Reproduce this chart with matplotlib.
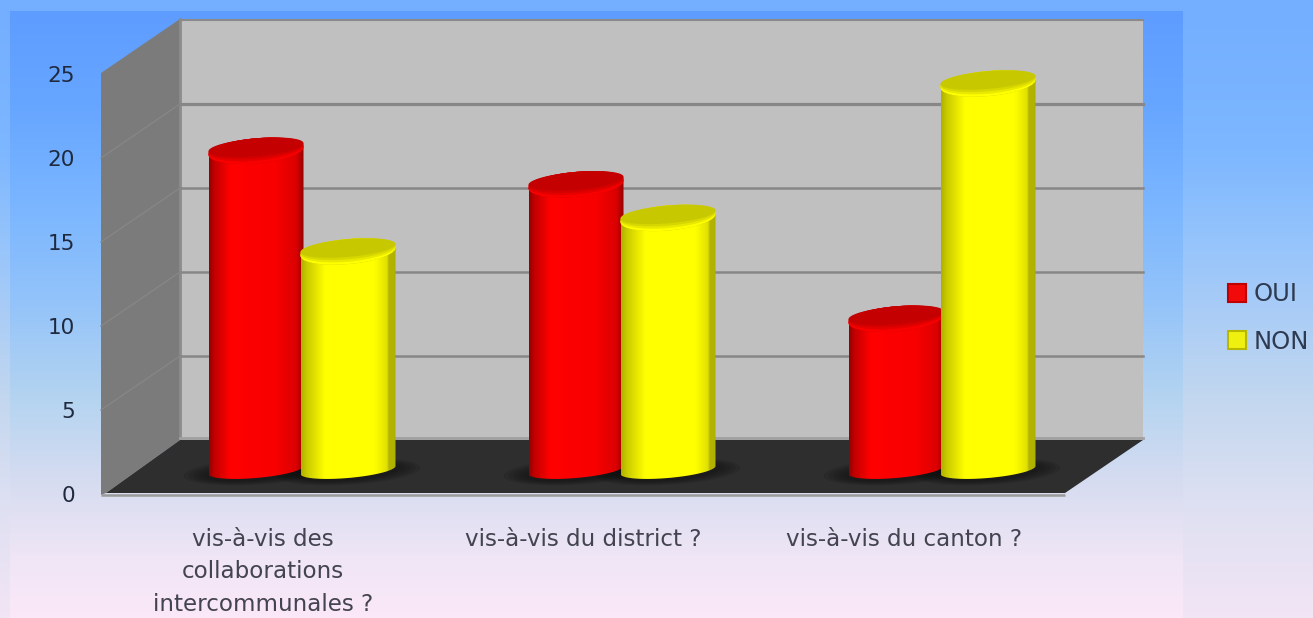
import numpy as np
import matplotlib
matplotlib.use('Agg')
import matplotlib.pyplot as plt
from matplotlib.colors import LinearSegmentedColormap, to_rgb
from matplotlib.patches import Patch, Polygon

categories = ['vis-à-vis des\ncollaborations\nintercommunales ?', 'vis-à-vis du district ?', 'vis-à-vis du canton ?']
oui = [19, 17, 9]
non = [13, 15, 23]
ticks = [0, 5, 10, 15, 20, 25]

W, H = 1313, 618
PX_PER_UNIT = 16.8
BASE_Y = 470      # pixel row of value 0 at the cylinder feet
GROUP_X = 302     # pixel column of first group
GROUP_STEP = 320


def vgrad(ax, stops, extent):
    # vertical gradient from (pixel row, colour) stops
    rows = np.arange(extent[2], extent[3])
    pos = [s[0] for s in stops]
    rgb = np.array([to_rgb(s[1]) for s in stops])
    img = np.stack([np.interp(rows, pos, rgb[:, c]) for c in range(3)], axis=1)[:, None, :]
    ax.imshow(img, extent=(extent[0], extent[1], extent[3], extent[2]), aspect='auto', zorder=0)


fig = plt.figure(figsize=(W / 100, H / 100), dpi=100)

# pixel axes for the backdrop, walls and texts
bg = fig.add_axes([0, 0, 1, 1])
vgrad(bg, [(0, '#73aeff'), (150, '#7db7ff'), (250, '#98c5fb'), (400, '#c3d7ef'),
           (500, '#dde0f2'), (618, '#f2e5f5')], (0, W, 0, H))
vgrad(bg, [(11, '#5e9dff'), (100, '#66a5ff'), (200, '#79b5ff'), (300, '#93c3fa'), (400, '#b5d4f0'),
           (480, '#d6dcf0'), (560, '#f0e6f6'), (618, '#fbe8f8')], (10, 1183, 11, H))
bg.set_xlim(0, W)
bg.set_ylim(H, 0)
bg.axis('off')

bg.add_patch(Polygon([(101, 73), (180, 19), (180, 440), (106, 493), (101, 495)], fc='#7b7b7b', ec='none', zorder=1))
bg.add_patch(Polygon([(180, 19), (1143, 19), (1143, 440), (180, 440)], fc='#c0c0c0', ec='none', zorder=1))
bg.add_patch(Polygon([(106, 493), (180, 440), (1143, 440), (1065, 493)], fc='#2e2e2e', ec='none', zorder=2))
bg.plot([101, 1065], [494.5, 494.5], color='#9a9a9a', lw=1.8, zorder=2, solid_capstyle='butt')
bg.plot([180, 180], [19, 438], color='#8c8c8c', lw=2, zorder=2)
bg.plot([180, 1143], [19.5, 19.5], color='#8a8a8a', lw=1.5, zorder=2)
bg.plot([180, 1143], [438, 438], color='#a0a0a0', lw=2, zorder=2)
for t in ticks[1:-1]:
    back = 440 - PX_PER_UNIT * t
    bg.plot([180, 1143], [back, back], color='#878787', lw=1.8 if t != 20 else 2.3, zorder=2)
    bg.plot([101, 180], [back + 54, back], color='#868686', lw=1, zorder=2)

for t in ticks:
    bg.text(75, 496 - PX_PER_UNIT * t, str(t), ha='right', va='center', fontsize=15.5, color='#1f2a3f', zorder=5)

for i, cat in enumerate(categories):
    bg.text(GROUP_X - 39 + (GROUP_STEP + 0.5) * i, 528, cat, ha='center', va='top', fontsize=16.6,
            color='#444450', linespacing=1.52, zorder=5)

# data axes: x in group index, y in value
ax = fig.add_axes([0, 0, 1, 1], facecolor='none')
ax.axis('off')
xlim = (-GROUP_X / GROUP_STEP, (W - GROUP_X) / GROUP_STEP)
ylim = ((BASE_Y - H) / PX_PER_UNIT, BASE_Y / PX_PER_UNIT)

BAR_W = 95 / GROUP_STEP
OFFSET = 46 / GROUP_STEP
ELL_H = 12.5 / PX_PER_UNIT   # half height of the top ellipse
FOOT_H = 8 / PX_PER_UNIT     # half height of the foot ellipse
TILT = 4 / PX_PER_UNIT       # left end lower than right end

t_circ = np.linspace(0, 2 * np.pi, 90)


def ellipse(cx, cy, hw, hh, tilt):
    return np.column_stack([cx + hw * np.cos(t_circ), cy + hh * np.sin(t_circ) + tilt * np.cos(t_circ)])


def shadow(x):
    # soft shadow on the floor, under every cylinder
    for k in range(5):
        grow = (5 - k) * 5 / GROUP_STEP
        ax.add_patch(Polygon(ellipse(x, -0.1, BAR_W / 2 + grow, FOOT_H + (5 - k) * 0.06, TILT),
                             fc='#000000', ec='none', alpha=0.09, zorder=5))


def cylinder(x, v, cmap, top_col, z):
    hw = BAR_W / 2
    # body outline: lower half of foot ellipse, then up to the top
    a = np.linspace(np.pi, 2 * np.pi, 45)
    foot = np.column_stack([x + hw * np.cos(a), FOOT_H * np.sin(a) + TILT * np.cos(a)])
    outline = np.vstack([foot, [x + hw, v + TILT], [x - hw, v - TILT]])
    im = ax.imshow(np.linspace(0, 1, 120)[None, :], cmap=cmap, vmin=0, vmax=1, aspect='auto', zorder=z,
                   extent=(x - hw, x + hw, -1, v + 1), interpolation='bilinear')
    im.set_clip_path(Polygon(outline, transform=ax.transData))
    # top cap: bright rim at the front and dark face
    ax.add_patch(Polygon(ellipse(x, v, hw, ELL_H, TILT), fc=top_col, ec='none', zorder=z + 0.1))
    for k, mix in enumerate([0.0, 0.4, 0.75, 1.0]):
        c = np.array(to_rgb(cmap(0.5))) * (1 - mix) + np.array(to_rgb(top_col)) * mix
        shrink = k * 1.2 / PX_PER_UNIT
        ax.add_patch(Polygon(ellipse(x, v + shrink, hw, ELL_H - shrink, TILT),
                             fc=c, ec='none', zorder=z + 0.2 + k * 0.1))


red_map = LinearSegmentedColormap.from_list('red', [(0, '#980000'), (0.05, '#c00000'), (0.22, '#ff0000'), (0.7, '#f80000'),
                                                    (0.92, '#dc0000'), (1, '#980000')])
yel_map = LinearSegmentedColormap.from_list('yel', [(0, '#b0b000'), (0.05, '#c8c800'), (0.25, '#ffff00'), (0.78, '#ffff00'),
                                                    (0.91, '#e0e000'), (0.93, '#b4b400'), (1, '#b0b000')])

for i in range(len(categories)):
    shadow(i - OFFSET)
    shadow(i + OFFSET)
    cylinder(i - OFFSET, oui[i], red_map, '#c40000', 10 + i * 4)
    cylinder(i + OFFSET, non[i], yel_map, '#c8c800', 12 + i * 4)

ax.set_xlim(*xlim)
ax.set_ylim(*ylim)

handles = [Patch(fc='#f20a0a', ec='#c00000', lw=1.5, label='OUI'), Patch(fc='#f0f010', ec='#b8b800', lw=1.5, label='NON')]
ax.legend(handles=handles, loc='center left', bbox_to_anchor=(1228 / W, 1 - 318 / H), frameon=False, fontsize=17.5,
          handlelength=0.72, handleheight=0.72, handletextpad=0.33, labelspacing=0.95, borderpad=0,
          labelcolor='#2e3a50', borderaxespad=0)

fig.savefig('out.png', dpi=100)
